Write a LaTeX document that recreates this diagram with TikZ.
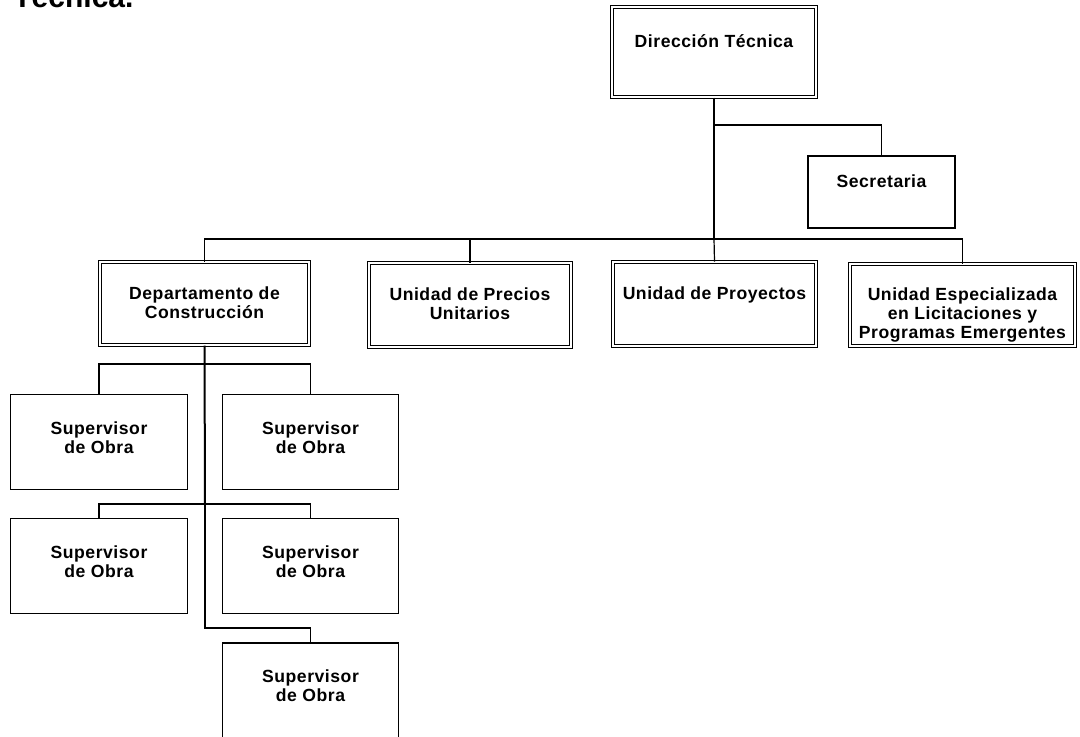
\documentclass[tikz,border=0pt]{standalone}
\usepackage{fontspec}
\setmainfont{Liberation Sans}
\newfontfamily\boxfont[LetterSpace=3]{Liberation Sans}
\usepackage{tikz}
\usetikzlibrary{positioning}

\tikzset{
  sbox/.style={draw,line width=0.6pt,fill=white,inner sep=0pt},
  dbox/.style={draw,line width=0.5pt,double,double distance=1.3pt,fill=white,inner sep=0pt},
  boxtext/.style={align=center,inner sep=0pt,font=\boxfont\bfseries\fontsize{8.8}{9.5}\selectfont},
  trunk/.style={line width=1pt},
  branch/.style={line width=0.6pt}
}

\begin{document}
\begin{tikzpicture}[x=0.5pt,y=-0.5pt]
  \useasboundingbox (0,0) rectangle (1080,736);
  \node[anchor=base west,inner sep=0pt,font=\bfseries\fontsize{15}{18}\selectfont] (title) at (13,7) {Técnica.};

  % top level
  \node[dbox,minimum width=102pt,minimum height=45pt] (dir) at (714,52) {};
  \node[sbox,minimum width=73.5pt,minimum height=36pt] (sec) at (881.5,192) {};
  \node[boxtext,below=14pt] (dirtxt) at (dir.north) {Dirección Técnica};
  \node[boxtext,below=9.5pt] (sectxt) at (sec.north) {Secretaria};

  % second level
  \node[dbox,minimum width=104.5pt,minimum height=41.5pt] (dept) at (204.5,303.5) {};
  \node[dbox,minimum width=101pt,minimum height=42pt] (prec) at (470,305) {};
  \node[dbox,minimum width=101.5pt,minimum height=42pt] (proy) at (714.5,304) {};
  \node[dbox,minimum width=112.5pt,minimum height=41pt] (esp) at (962.5,305) {};
  \node[boxtext,below=12.5pt] (depttxt) at (dept.north) {Departamento de\\Construcción};
  \node[boxtext,below=12.5pt] (prectxt) at (prec.north) {Unidad de Precios\\Unitarios};
  \node[boxtext,below=12.5pt] (proytxt) at (proy.north) {Unidad de Proyectos};
  \node[boxtext,below=12pt] (esptxt) at (esp.north) {Unidad Especializada\\en Licitaciones y\\Programas Emergentes};

  % supervisors
  \node[sbox,minimum width=88.25pt,minimum height=47.5pt] (sup1) at (99,442) {};
  \node[sbox,minimum width=88.25pt,minimum height=47.5pt] (sup2) at (310.5,442) {};
  \node[sbox,minimum width=88.25pt,minimum height=47.5pt] (sup3) at (99,566) {};
  \node[sbox,minimum width=88.25pt,minimum height=47.5pt] (sup4) at (310.5,566) {};
  \node[sbox,minimum width=88.25pt,minimum height=47.5pt] (sup5) at (310.5,690.5) {};
  \foreach \s in {sup1,sup2,sup3,sup4,sup5}
    \node[boxtext,below=13.5pt] (\s txt) at (\s.north) {Supervisor\\de Obra};

  % forks
  \coordinate (secfork) at (714,125);
  \coordinate (bus) at (714,239);
  \coordinate (fork1) at (205,364);
  \coordinate (fork2) at (205,504);
  \coordinate (fork3) at (205,628);

  \draw[trunk] (dir.south) -- (bus);
  \draw[branch] (bus) -- (proy.north);
  \draw[branch] (secfork) -| (sec.north);
  \draw[branch] (prec.north |- bus) -| (dept.north);
  \draw[trunk] (prec.north |- bus) -- (bus);
  \draw[branch] (prec.north |- bus) -- (prec.north);
  \draw[branch] (bus) -| (esp.north);

  \draw[trunk] (dept.south) -- (fork2);
  \draw[branch] (fork2) -- (fork3) -| (sup5.north);
  \draw[branch] (sup1.north) |- (fork1) -| (sup2.north);
  \draw[branch] (sup3.north) |- (fork2) -| (sup4.north);
\end{tikzpicture}
\end{document}
